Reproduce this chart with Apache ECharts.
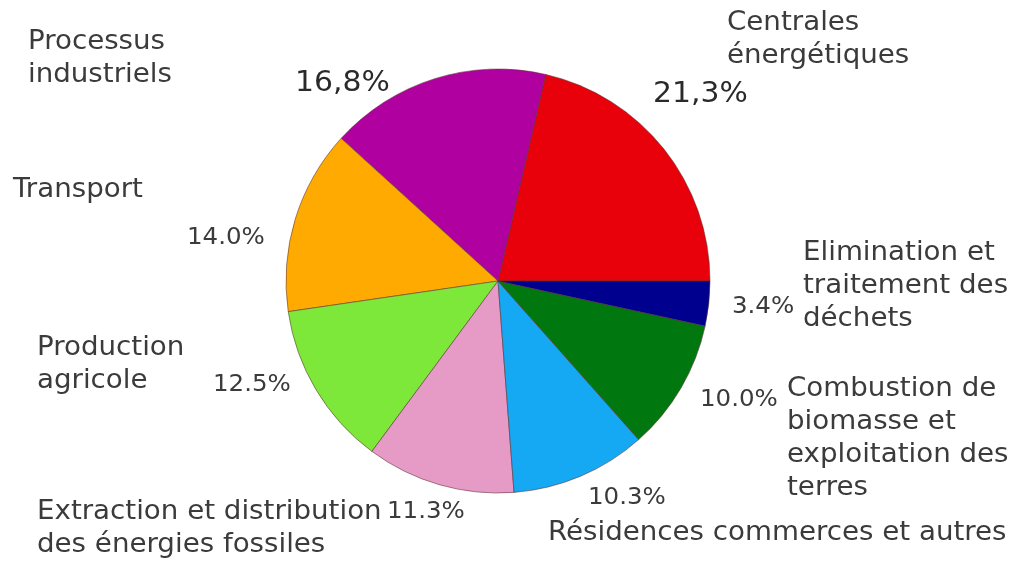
<!DOCTYPE html>
<html>
<head>
<meta charset="utf-8">
<script src="https://cdn.jsdelivr.net/npm/echarts@6/dist/echarts.min.js"></script>
<style>
html,body{margin:0;padding:0;background:#fff;}
#chart{width:1019px;height:562px;}
</style>
</head>
<body>
<div id="chart"></div>
<script>
// ---- data ----
var categories = [
  'Centrales\nénergétiques',
  'Processus\nindustriels',
  'Transport',
  'Production\nagricole',
  'Extraction et distribution\ndes énergies fossiles',
  'Résidences commerces et autres',
  'Combustion de\nbiomasse et\nexploitation des\nterres',
  'Elimination et\ntraitement des\ndéchets'
];
var values = [21.3, 16.8, 14.0, 12.5, 11.3, 10.3, 10.0, 3.4];
var percentLabels = ['21,3%', '16,8%', '14.0%', '12.5%', '11.3%', '10.3%', '10.0%', '3.4%'];

// ---- styling / layout ----
var colors = ['#e8000b', '#b0009f', '#ffaa00', '#7de83a', '#e69ac6', '#15a8f3', '#00780f', '#00008f'];
var namePos = [[727, 40], [28, 59], [13, 190], [37, 365], [37, 529], [548, 533], [787, 439], [803, 286]];
var pctPos = [[653, 95], [295, 84], [187, 238], [213, 385], [387, 512], [588, 498], [700, 400], [732, 307]];
var pctSize = [28, 28, 23, 23, 23, 23, 23, 23];
var FONT = 'DejaVu Sans';
var STRETCH = 1.065;

var chart = echarts.init(document.getElementById('chart'), null, {renderer: 'canvas'});

var graphics = [];
categories.forEach(function (name, i) {
  graphics.push({
    type: 'text', silent: true,
    position: [namePos[i][0], 0],
    scaleX: STRETCH,
    style: {
      text: name, x: 0, y: namePos[i][1],
      font: '26px "' + FONT + '"', fill: '#3b3b3b',
      lineHeight: 33, textAlign: 'left', textVerticalAlign: 'middle'
    }
  });
  graphics.push({
    type: 'text', silent: true,
    position: [pctPos[i][0], 0],
    scaleX: STRETCH,
    style: {
      text: percentLabels[i], x: 0, y: pctPos[i][1],
      font: pctSize[i] + 'px "' + FONT + '"', fill: i < 2 ? '#2a2a2a' : '#3b3b3b',
      textAlign: 'left', textVerticalAlign: 'middle'
    }
  });
});

chart.setOption({
  animation: false,
  backgroundColor: '#ffffff',
  series: [{
    type: 'pie',
    center: [498, 281],
    radius: 212,
    startAngle: 0,
    clockwise: false,
    label: {show: false},
    labelLine: {show: false},
    emphasis: {disabled: true},
    itemStyle: {borderColor: 'rgba(90,50,50,0.55)', borderWidth: 1},
    data: categories.map(function (c, i) {
      return {name: c, value: values[i], itemStyle: {color: colors[i]}};
    })
  }],
  graphic: graphics
});
</script>
</body>
</html>
